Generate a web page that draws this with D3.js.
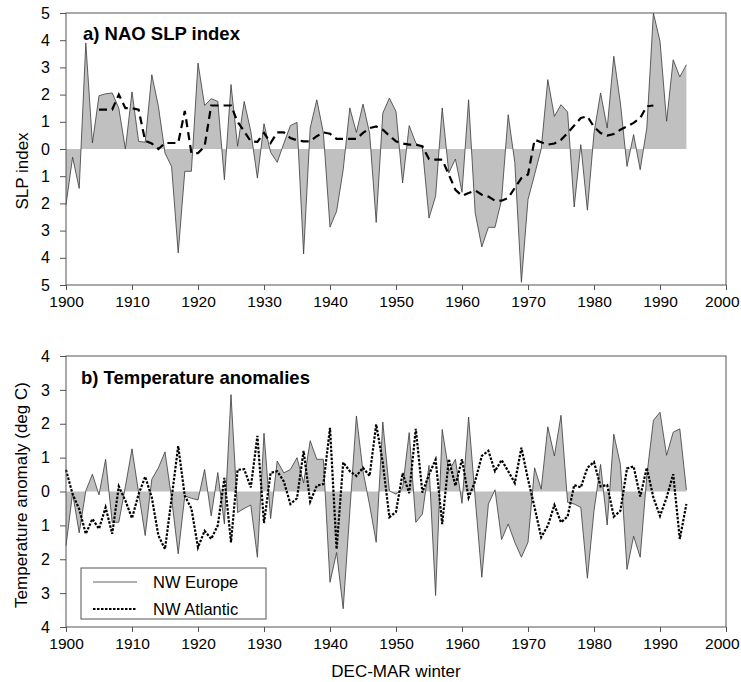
<!DOCTYPE html>
<html>
<head>
<meta charset="utf-8">
<script src="https://cdnjs.cloudflare.com/ajax/libs/d3/7.8.5/d3.min.js"></script>
<style>
  body { margin: 0; background: #fff; }
  svg text { font-family: "Liberation Sans", Arial, sans-serif; fill: #000; }
</style>
</head>
<body>
<div id="chart"></div>
<script>
// Data (DEC-MAR winters 1900-1994)
const years = d3.range(1900, 1995);

const naoIndex = [
  -2.05, -0.3, -1.45, 3.9, 0.22, 1.96, 2.03, 2.06, 1.5, 0.0,
  2.1, 0.28, 0.25, 2.73, 1.57, -0.15, -0.65, -3.82, -0.82, -0.82,
  3.16, 1.6, 1.85, 1.75, -1.13, 2.37, 0.1, 1.75, 0.65, -1.07,
  0.93, -0.12, -0.49, 0.2, 0.86, 0.98, -3.86, 0.77, 1.81, 0.59,
  -2.87, -2.29, -0.76, 1.51, 0.61, 1.65, 0.59, -2.7, 1.32, 1.87,
  1.38, -1.25, 0.86, 0.22, 0.04, -2.54, -1.74, 1.51, -0.88, -0.37,
  -1.59, 1.81, -2.35, -3.6, -2.88, -2.88, -1.86, 1.26, -0.5, -4.9,
  -1.86, -0.94, 0.0, 2.55, 1.2, 1.63, 1.36, -2.13, 0.16, -2.25,
  0.59, 2.06, 0.77, 3.41, 1.69, -0.64, 0.53, -0.76, 0.77, 5.0,
  3.96, 1.02, 3.28, 2.65, 3.1
];

// smoothed NAO, 1905-1989
const naoSmoothYears = d3.range(1905, 1990);
const naoSmooth = [
  1.45, 1.45, 1.45, 2.0, 1.5,
  1.5, 1.45, 0.3, 0.2, 0.0, 0.22, 0.22, 0.22, 1.4, -0.15,
  -0.15, 0.1, 1.6, 1.6, 1.6, 1.6, 1.0, 0.65, 0.28, 0.26,
  0.59, 0.22, 0.61, 0.61, 0.4, 0.32, 0.28, 0.28, 0.47, 0.61,
  0.56, 0.37, 0.37, 0.37, 0.37, 0.59, 0.77, 0.83, 0.71, 0.49,
  0.28, 0.2, 0.16, 0.16, 0.1, -0.37, -0.39, -0.39, -0.94, -1.5,
  -1.72, -1.62, -1.52, -1.68, -1.75, -1.9, -1.9, -1.8, -1.43, -1.07,
  -0.94, 0.34, 0.25, 0.16, 0.2, 0.34, 0.59, 0.86, 1.14, 1.2,
  0.81, 0.59, 0.49, 0.55, 0.71, 0.83, 0.96, 1.14, 1.57, 1.6
];

const nwEurope = [
  -1.6, -0.05, -1.22, 0.02, 0.51, -0.1, 0.95, -0.91, -0.91, 0.15,
  1.26, -0.03, -1.3, 0.36, 0.7, 1.17, -0.2, -1.84, -0.13, -0.2,
  -0.25, 0.65, -0.72, 0.56, -0.96, 2.86, -0.62, -0.5, -0.4, -1.94,
  1.72, -0.8, 0.9, 0.55, 0.65, 1.0, 0.25, 1.5, 0.95, 0.95,
  -2.68, -1.8, -3.46, -0.6, 2.23, 0.6, -0.4, -1.5, 2.05, 0.02,
  -0.08, 0.1, 1.74, -0.91, -0.67, 0.77, -3.07, 1.83, 0.6, 0.95,
  -0.35, 2.2, -0.2, -2.53, -0.37, 0.05, -1.42, -0.96, -1.5, -1.94,
  -1.5, 0.7, 0.07, 1.91, 1.05, 2.25, -0.32, -0.37, -0.47, -2.56,
  -0.57, 0.8, -0.99, 1.69, 0.8, -2.3, -1.32, -1.94, 0.46, 2.1,
  2.34, 1.07, 1.75, 1.85, 0.05
];

const nwAtlantic = [
  0.64, -0.08, -0.52, -1.25, -0.81, -1.1, -0.47, -1.25, 0.15, -0.27,
  -0.79, -0.08, 0.44, -0.18, -1.3, -1.7, -0.2, 1.34, -0.13, -0.5,
  -1.65, -1.16, -1.4, -1.0, 0.4, -1.5, 0.64, 0.66, 0.12, 1.64,
  -0.93, 0.55, 0.6, 0.3, -0.37, -0.2, 1.2, -0.3, 0.17, 0.22,
  1.88, -1.7, 0.86, 0.6, 0.46, 0.7, 0.46, 1.98, 0.85, -0.76,
  -0.6, 0.54, -0.05, 1.85, -0.03, 0.5, 0.94, -0.96, 0.96, 0.17,
  0.95, -0.18, 0.31, 1.05, 1.2, 0.6, 0.93, 0.6, 0.25, 1.29,
  0.36, -0.47, -1.35, -1.01, -0.4, -0.91, -0.74, 0.19, 0.12, 0.7,
  0.87, 0.15, 0.19, -0.74, -0.57, 0.68, 0.74, -0.15, 0.7, -0.18,
  -0.72, -0.18, 0.51, -1.4, -0.37
];

const xTicks = [1900, 1910, 1920, 1930, 1940, 1950, 1960, 1970, 1980, 1990, 2000];
const yTicksTop = [-5, -4, -3, -2, -1, 0, 1, 2, 3, 4, 5];
const yTicksBot = [-4, -3, -2, -1, 0, 1, 2, 3, 4];

// Layout
const W = 741, H = 682;
const left = 66, right = 726;
const top1 = 13, bot1 = 285;
const top2 = 356, bot2 = 627;

const svg = d3.select("#chart").append("svg")
  .attr("width", W)
  .attr("height", H);

const x = d3.scaleLinear().domain([1900, 2000]).range([left, right]);
const yA = d3.scaleLinear().domain([-5, 5]).range([bot1, top1]);
const yB = d3.scaleLinear().domain([-4, 4]).range([bot2, top2]);

function panel(y, yTicks, yBot) {
  const g = svg.append("g");

  g.append("g")
    .attr("transform", `translate(0,${yBot})`)
    .call(d3.axisBottom(x).tickValues(xTicks).tickFormat(d3.format("d")).tickSize(5).tickSizeOuter(0).tickPadding(6))
    .call(a => a.select(".domain").remove())
    .call(a => a.selectAll("line").attr("stroke", "#555"))
    .call(a => a.selectAll("text").attr("font-size", 15.5).attr("fill", "#000"))
    // last label pulled in so it stays on the page
    .call(a => a.selectAll(".tick").filter(d => d === 2000).select("text").attr("text-anchor", "end").attr("x", 13));

  g.append("g")
    .attr("transform", `translate(${left},0)`)
    .call(d3.axisLeft(y).tickValues(yTicks).tickFormat(d => Math.abs(d)).tickSize(6).tickSizeOuter(0).tickPadding(10))
    .call(a => a.select(".domain").remove())
    .call(a => a.selectAll("line").attr("stroke", "#555"))
    .call(a => a.selectAll("text").attr("font-size", 16).attr("fill", "#000"));

  return g;
}

function frame(yTop, yBot) {
  svg.append("rect")
    .attr("x", left)
    .attr("y", yTop)
    .attr("width", right - left)
    .attr("height", yBot - yTop)
    .attr("fill", "none")
    .attr("stroke", "#555")
    .attr("stroke-width", 1);
}

// ---------- panel a ----------
panel(yA, yTicksTop, bot1);

svg.append("path")
  .datum(naoIndex)
  .attr("fill", "#c0c0c0")
  .attr("d", d3.area().x((d, i) => x(years[i])).y0(yA(0)).y1(d => yA(d)));

svg.append("path")
  .datum(naoIndex)
  .attr("fill", "none")
  .attr("stroke", "#3a3a3a")
  .attr("stroke-width", 0.8)
  .attr("d", d3.line().x((d, i) => x(years[i])).y(d => yA(d)));

svg.append("path")
  .datum(naoSmooth)
  .attr("fill", "none")
  .attr("stroke", "#000")
  .attr("stroke-width", 2.2)
  .attr("stroke-dasharray", "8,5")
  .attr("d", d3.line().x((d, i) => x(naoSmoothYears[i])).y(d => yA(d)));

frame(top1, bot1);

svg.append("text")
  .attr("x", 83).attr("y", 40)
  .attr("font-size", 18.5).attr("font-weight", "bold")
  .text("a) NAO SLP index");

svg.append("text")
  .attr("transform", `translate(28,171) rotate(-90)`)
  .attr("text-anchor", "middle")
  .attr("font-size", 17)
  .text("SLP index");

// ---------- panel b ----------
panel(yB, yTicksBot, bot2);

svg.append("path")
  .datum(nwEurope)
  .attr("fill", "#c0c0c0")
  .attr("d", d3.area().x((d, i) => x(years[i])).y0(yB(0)).y1(d => yB(d)));

svg.append("path")
  .datum(nwEurope)
  .attr("fill", "none")
  .attr("stroke", "#3a3a3a")
  .attr("stroke-width", 0.8)
  .attr("d", d3.line().x((d, i) => x(years[i])).y(d => yB(d)));

svg.append("path")
  .datum(nwAtlantic)
  .attr("fill", "none")
  .attr("stroke", "#000")
  .attr("stroke-width", 2.2)
  .attr("stroke-dasharray", "2.5,1.5")
  .attr("d", d3.line().x((d, i) => x(years[i])).y(d => yB(d)));

frame(top2, bot2);

svg.append("text")
  .attr("x", 81).attr("y", 384)
  .attr("font-size", 18.5).attr("font-weight", "bold")
  .text("b) Temperature anomalies");

svg.append("text")
  .attr("transform", `translate(27,495) rotate(-90)`)
  .attr("text-anchor", "middle")
  .attr("font-size", 17)
  .text("Temperature anomaly (deg C)");

svg.append("text")
  .attr("x", 396).attr("y", 677)
  .attr("text-anchor", "middle")
  .attr("font-size", 17)
  .text("DEC-MAR winter");

// legend
const lg = svg.append("g");
lg.append("rect")
  .attr("x", 81).attr("y", 568)
  .attr("width", 185).attr("height", 51)
  .attr("fill", "#fff")
  .attr("stroke", "#555");
lg.append("line")
  .attr("x1", 93).attr("x2", 137).attr("y1", 582).attr("y2", 582)
  .attr("stroke", "#3a3a3a").attr("stroke-width", 0.8);
lg.append("line")
  .attr("x1", 93).attr("x2", 137).attr("y1", 609).attr("y2", 609)
  .attr("stroke", "#000").attr("stroke-width", 2.2).attr("stroke-dasharray", "2.5,1.5");
lg.append("text").attr("x", 153).attr("y", 588).attr("font-size", 16.5).text("NW Europe");
lg.append("text").attr("x", 153).attr("y", 615).attr("font-size", 16.5).text("NW Atlantic");
</script>
</body>
</html>
